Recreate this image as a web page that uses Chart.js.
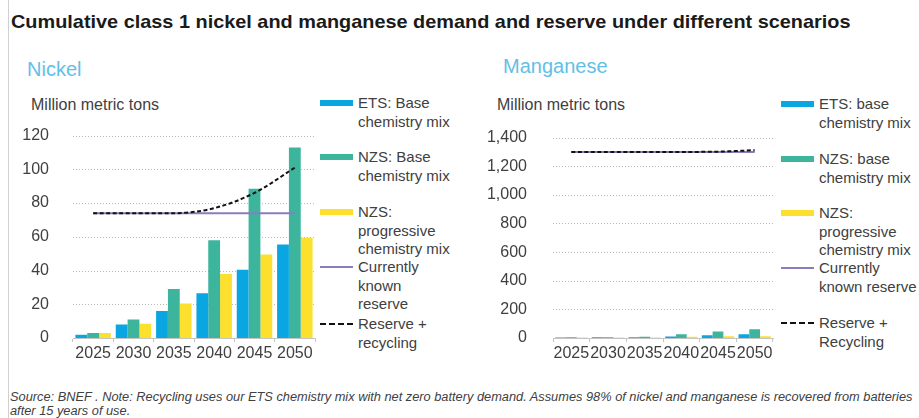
<!DOCTYPE html>
<html>
<head>
<meta charset="utf-8">
<script src="https://cdn.jsdelivr.net/npm/chart.js@4.4.1/dist/chart.umd.min.js"></script>
<style>
  html, body { margin: 0; padding: 0; background: #fff; }
  body { width: 919px; height: 418px; position: relative; overflow: hidden; font-family: "Liberation Sans", Arial, sans-serif; color: #404040; }
  .frame { position: absolute; left: 8px; top: 0; width: 1px; height: 418px; background: #d0d0d0; }
  .title { position: absolute; left: 11px; top: 11px; font-size: 19px; font-weight: bold; color: #1a1a1a; white-space: nowrap; transform-origin: left top; }
  .sub { position: absolute; font-size: 20px; color: #62c0e6; white-space: nowrap; }
  .unit { position: absolute; font-size: 16px; color: #404040; white-space: nowrap; }
  .box { position: absolute; }
  .legend { position: absolute; font-size: 15px; line-height: 18.5px; color: #404040; white-space: nowrap; }
  .item { position: absolute; left: 0; }
  .sw { position: absolute; left: 0; width: 33px; }
  .txt { position: absolute; left: 38px; }
  .note { position: absolute; left: 10px; top: 390px; font-size: 12px; line-height: 14px; font-style: italic; color: #404040; white-space: nowrap; transform-origin: left top; }
</style>
</head>
<body>
<div class="frame"></div>
<div class="title" id="title">Cumulative class 1 nickel and manganese demand and reserve under different scenarios</div>
<div class="sub" style="left:27px;top:58px;">Nickel</div>
<div class="sub" style="left:503px;top:55px;">Manganese</div>
<div class="unit" style="left:31px;top:96px;">Million metric tons</div>
<div class="unit" style="left:497px;top:96px;">Million metric tons</div>
<div class="box" style="left:8px;top:110px;width:312px;height:260px;"><canvas id="nickel"></canvas></div>
<div class="box" style="left:488px;top:110px;width:290px;height:260px;"><canvas id="manganese"></canvas></div>
<div class="legend" id="legNi" style="left:320px;top:0;"></div>
<div class="legend" id="legMn" style="left:781px;top:0;"></div>
<div class="note" id="note"><span id="noteLine">Source: BNEF . Note: Recycling uses our ETS chemistry mix with net zero battery demand. Assumes 98% of nickel and manganese is recovered from batteries</span><br>after 15 years of use.</div>
<script>
const years = ['2025', '2030', '2035', '2040', '2045', '2050'];

const nickelEts = [2, 8, 16, 26.5, 40.5, 55.5];
const nickelNzs = [3, 11, 29, 58, 88.5, 113];
const nickelProg = [3, 8.5, 20.5, 38, 49.5, 59.5];
const nickelReserve = [74, 74, 74, 74, 74, 74];
const nickelRecycling = [74, 74, 74, 77, 86, 101];
const nickelTicks = [0, 20, 40, 60, 80, 100, 120];

const mnEts = [4, 5, 6, 10, 20, 27];
const mnNzs = [5, 6, 8, 27, 46, 62];
const mnProg = [3, 3, 4, 8, 12, 12];
const mnReserve = [1300, 1300, 1300, 1300, 1300, 1300];
const mnRecycling = [1300, 1300, 1300, 1300, 1302, 1312];
const mnTicks = [0, 200, 400, 600, 800, 1000, 1200, 1400];

const BLUE = '#0aa6e2';
const TEAL = '#3db59d';
const YELLOW = '#fde02e';
const PURPLE = '#8c7bbd';

const tickFont = { family: 'Liberation Sans', size: 16 };

// dotted horizontal gridlines at each y tick
const dottedGrid = {
  id: 'dottedGrid',
  beforeDatasetsDraw(chart) {
    const { ctx, chartArea, scales } = chart;
    ctx.save();
    ctx.strokeStyle = '#b8b8b8';
    ctx.lineWidth = 1;
    ctx.setLineDash([1, 2]);
    scales.y.ticks.forEach((t) => {
      if (t.value === 0) return;
      const y = Math.round(scales.y.getPixelForValue(t.value)) + 0.5;
      ctx.beginPath();
      ctx.moveTo(chartArea.left, y);
      ctx.lineTo(chartArea.right, y);
      ctx.stroke();
    });
    ctx.restore();
  },
};

function buildChart(id, ets, nzs, prog, reserve, recycling, ticks, yPad) {
  const yMax = ticks[ticks.length - 1];
  return new Chart(document.getElementById(id), {
    type: 'bar',
    data: {
      labels: years,
      datasets: [
        { data: ets, backgroundColor: BLUE, order: 3 },
        { data: nzs, backgroundColor: TEAL, order: 3 },
        { data: prog, backgroundColor: YELLOW, order: 3 },
        { type: 'line', data: reserve, borderColor: PURPLE, borderWidth: 2, pointRadius: 0, order: 2 },
        { type: 'line', data: recycling, borderColor: '#111', borderWidth: 2, borderDash: [4, 2.5], pointRadius: 0, cubicInterpolationMode: 'monotone', order: 1 },
      ],
    },
    plugins: [dottedGrid],
    options: {
      animation: false,
      responsive: true,
      maintainAspectRatio: false,
      layout: { padding: { top: 5, right: 5, left: 0, bottom: 0 } },
      datasets: { bar: { barPercentage: 1, categoryPercentage: 0.88 } },
      plugins: { legend: { display: false }, tooltip: { enabled: false } },
      scales: {
        x: {
          grid: { display: true, drawOnChartArea: false, drawTicks: true, tickLength: 4, color: '#c4c4c4' },
          border: { display: true, color: '#c4c4c4' },
          ticks: { autoSkip: false, maxRotation: 0, minRotation: 0, padding: 2, color: '#404040', font: tickFont },
          afterFit: (s) => { s.height = 32; },
        },
        y: {
          min: 0,
          max: yMax,
          afterBuildTicks: (s) => { s.ticks = ticks.map((v) => ({ value: v })); },
          grid: { display: false },
          border: { display: false },
          ticks: { padding: yPad, color: '#404040', font: tickFont, callback: (v) => v.toLocaleString('en-US') },
          afterFit: (s) => { s.width = 65; },
        },
      },
    },
  });
}

buildChart('nickel', nickelEts, nickelNzs, nickelProg, nickelReserve, nickelRecycling, nickelTicks, 16);
buildChart('manganese', mnEts, mnNzs, mnProg, mnReserve, mnRecycling, mnTicks, 18);

function swatch(kind) {
  if (kind === 'line') return `<div class="sw" style="top:8px;height:2px;background:${PURPLE}"></div>`;
  if (kind === 'dash') return `<div class="sw" style="top:8px;height:0;border-top:2px dashed #111"></div>`;
  return `<div class="sw" style="top:6px;height:6px;background:${kind}"></div>`;
}

function legend(el, rows) {
  el.innerHTML = rows
    .map((r) => `<div class="item" style="top:${r.top}px">${swatch(r.kind)}<div class="txt">${r.lines.join('<br>')}</div></div>`)
    .join('');
}

legend(document.getElementById('legNi'), [
  { top: 94, kind: BLUE, lines: ['ETS: Base', 'chemistry mix'] },
  { top: 148, kind: TEAL, lines: ['NZS: Base', 'chemistry mix'] },
  { top: 203, kind: YELLOW, lines: ['NZS:', 'progressive', 'chemistry mix'] },
  { top: 258, kind: 'line', lines: ['Currently', 'known', 'reserve'] },
  { top: 315, kind: 'dash', lines: ['Reserve +', 'recycling'] },
]);

legend(document.getElementById('legMn'), [
  { top: 95, kind: BLUE, lines: ['ETS: base', 'chemistry mix'] },
  { top: 150, kind: TEAL, lines: ['NZS: base', 'chemistry mix'] },
  { top: 204, kind: YELLOW, lines: ['NZS:', 'progressive', 'chemistry mix'] },
  { top: 259, kind: 'line', lines: ['Currently', 'known reserve'] },
  { top: 314, kind: 'dash', lines: ['Reserve +', 'Recycling'] },
]);

// stretch title and note to the reference widths
const title = document.getElementById('title');
title.style.transform = `scaleX(${840 / title.offsetWidth})`;
const note = document.getElementById('note');
note.style.transform = `scaleX(${902 / document.getElementById('noteLine').offsetWidth})`;
</script>
</body>
</html>
